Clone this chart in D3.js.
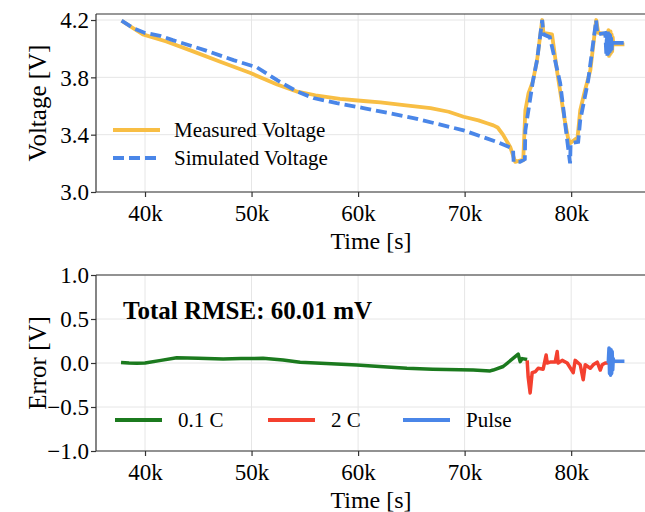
<!DOCTYPE html>
<html><head><meta charset="utf-8">
<script src="https://cdn.jsdelivr.net/npm/d3@7"></script>
<style>body{margin:0;background:#fff}svg{display:block}</style>
</head><body><svg id="c" width="645" height="512"></svg>
<script>
// ---- data ----
const measuredT = [37800,39800,42000,44200,47000,49900,52400,54300,56000,58300,60500,62100,64500,66800,68500,69900,71300,72100,72700,73100,73600,74300,74750,75200,75500,75700,76000,76400,76800,77280,77400,78200,78700,79400,79700,79900,80600,80850,81300,81800,82350,82550,83400,83450,83500,83550,83600,83650,83700,83750,83800,83850,83900,83950,85000];
const measuredV = [4.195,4.10,4.05,3.99,3.91,3.83,3.75,3.70,3.675,3.65,3.635,3.625,3.605,3.585,3.56,3.525,3.50,3.48,3.465,3.45,3.40,3.31,3.21,3.22,3.22,3.57,3.69,3.77,3.92,4.20,4.11,4.10,3.83,3.50,3.38,3.34,3.38,3.57,3.71,3.85,4.20,4.11,4.10,3.96,4.13,3.95,4.12,3.96,4.12,3.97,4.10,3.98,4.08,4.03,4.03];
const simulatedT = [37800,39000,40000,41400,42600,45200,48300,50500,52400,54300,55800,58000,60500,65200,69900,73000,74300,74550,74600,75200,75650,75700,76400,76800,77280,77400,78000,78970,79630,79900,79950,80660,80850,81600,82350,82450,83200,83300,83350,83400,83450,83500,83550,83600,83650,83700,83750,83800,83850,83900,85000];
const simulatedV = [4.195,4.14,4.11,4.09,4.06,4.00,3.92,3.87,3.78,3.70,3.656,3.62,3.586,3.516,3.43,3.35,3.31,3.29,3.21,3.21,3.23,3.43,3.77,3.92,4.20,4.10,4.08,3.76,3.36,3.20,3.34,3.35,3.50,3.78,4.20,4.10,4.11,3.96,4.12,3.95,4.12,3.96,4.11,3.97,4.10,3.98,4.08,3.99,4.06,4.04,4.04];

const err01T = [37750,38500,39220,40000,41500,42980,45000,47330,49000,51080,52960,54560,57000,59880,62000,64580,67000,70800,72400,72680,73620,75030,75220,75400,75870];
const err01V = [0.007,0.0,-0.003,0.0,0.03,0.06,0.055,0.045,0.05,0.053,0.034,0.008,-0.005,-0.023,-0.04,-0.06,-0.07,-0.08,-0.09,-0.08,-0.04,0.10,0.015,0.05,0.04];
const err2CT = [75870,75965,76150,76340,76620,76900,77370,77650,77750,78030,78500,78690,78780,79160,79630,80190,80380,80850,81130,81320,81790,82070,82450,82730,82910,83200,83480];
const err2CV = [0.03,-0.16,-0.34,-0.11,-0.10,-0.06,-0.07,0.09,0.0,0.01,0.01,0.13,0.0,0.03,0.0,-0.11,0.03,-0.02,-0.19,-0.02,-0.06,-0.02,0.01,-0.08,-0.02,0.0,0.0];
const errPulseT = [83480,83550,83600,83650,83700,83750,83800,83850,83900,83950,84000,85000];
const errPulseV = [0.0,0.17,-0.12,0.16,-0.14,0.15,-0.12,0.13,-0.08,0.05,0.02,0.02];

const xTicks = [40000,50000,60000,70000,80000];
const xTickLabels = ["40k","50k","60k","70k","80k"];
const vTicks = [3.0,3.4,3.8,4.2];
const eTicks = [-1.0,-0.5,0.0,0.5,1.0];
const topLegend = ["Measured Voltage","Simulated Voltage"];
const botLegend = ["0.1 C","2 C","Pulse"];
const rmseText = "Total RMSE: 60.01 mV";

// ---- drawing ----
const svg = d3.select("#c");
const FONT = "'Liberation Serif','Times New Roman',serif";
const C = {orange:"#F8BE44", blue:"#4A86E8", green:"#1B7A1E", red:"#F4402F", grid:"#e6e6e6", axis:"#333"};

const x = d3.scaleLinear().domain([35400,87400]).range([96,650]);
const yT = d3.scaleLinear().domain([3.0,4.242]).range([192,14]);
const yB = d3.scaleLinear().domain([-1,1]).range([451,275]);

function panel(y, yTicks, fmt, top, bottom, ylabel) {
  const g = svg.append("g");
  g.selectAll(".gx").data(xTicks).join("line")
    .attr("x1",d=>x(d)).attr("x2",d=>x(d)).attr("y1",top).attr("y2",bottom)
    .attr("stroke",C.grid).attr("stroke-width",1);
  g.selectAll(".gy").data(yTicks).join("line")
    .attr("x1",96).attr("x2",650).attr("y1",d=>y(d)).attr("y2",d=>y(d))
    .attr("stroke",C.grid).attr("stroke-width",1);
  const ax = g.append("g").attr("transform",`translate(0,${bottom})`)
    .call(d3.axisBottom(x).tickValues(xTicks).tickFormat((d,i)=>xTickLabels[i]).tickSize(5).tickPadding(3));
  const ay = g.append("g").attr("transform",`translate(96,0)`)
    .call(d3.axisLeft(y).tickValues(yTicks).tickFormat(fmt).tickSize(5).tickPadding(2));
  [ax,ay].forEach(a=>{
    a.select(".domain").remove();
    a.selectAll("line").attr("stroke",C.axis).attr("stroke-width",1.2);
    a.selectAll("text").attr("font-family",FONT).attr("font-size",23).attr("fill","#000");
  });
  ax.selectAll("text").attr("dy","0.9em");
  ay.selectAll("text").attr("dy","0.34em");
  g.append("line").attr("x1",96).attr("x2",650).attr("y1",top).attr("y2",top).attr("stroke",C.axis).attr("stroke-width",1.2);
  g.append("line").attr("x1",96).attr("x2",650).attr("y1",bottom).attr("y2",bottom).attr("stroke",C.axis).attr("stroke-width",1.2);
  g.append("line").attr("x1",96).attr("x2",96).attr("y1",top).attr("y2",bottom).attr("stroke",C.axis).attr("stroke-width",1.2);
  svg.append("text").attr("x",371).attr("y",bottom+57).attr("text-anchor","middle")
    .attr("font-family",FONT).attr("font-size",24).text("Time [s]");
  svg.append("text").attr("transform",`translate(46,${(top+bottom)/2}) rotate(-90)`).attr("text-anchor","middle")
    .attr("font-family",FONT).attr("font-size",25).text(ylabel);
  return g;
}

panel(yT, vTicks, d3.format(".1f"), 14, 192, "Voltage [V]");
panel(yB, eTicks, d=>d3.format(".1f")(d).replace("-","\u2212"), 275, 451, "Error [V]");

const lineT = d3.line().x(d=>x(d[0])).y(d=>yT(d[1]));
const lineB = d3.line().x(d=>x(d[0])).y(d=>yB(d[1]));

svg.append("path").datum(d3.zip(measuredT,measuredV)).attr("d",lineT)
  .attr("fill","none").attr("stroke",C.orange).attr("stroke-width",3.8).attr("stroke-linejoin","round");
svg.append("path").datum(d3.zip(simulatedT,simulatedV)).attr("d",lineT)
  .attr("fill","none").attr("stroke",C.blue).attr("stroke-width",3.8).attr("stroke-dasharray","11,5");

[[err01T,err01V,C.green],[err2CT,err2CV,C.red],[errPulseT,errPulseV,C.blue]].forEach(([t,v,c])=>{
  svg.append("path").datum(d3.zip(t,v)).attr("d",lineB)
    .attr("fill","none").attr("stroke",c).attr("stroke-width",3.5).attr("stroke-linejoin","round");
});

const lt = svg.append("g").attr("font-family",FONT).attr("font-size",21);
[[C.orange,null,130],[C.blue,"11,5",158]].forEach(([c,da,yy],i)=>{
  const l = lt.append("line").attr("x1",113).attr("x2",160).attr("y1",yy).attr("y2",yy)
    .attr("stroke",c).attr("stroke-width",3.8);
  if (da) l.attr("stroke-dasharray",da);
  lt.append("text").attr("x",174).attr("y",yy+7).text(topLegend[i]);
});
const lb = svg.append("g").attr("font-family",FONT).attr("font-size",21);
[[C.green,115],[C.red,268],[C.blue,403]].forEach(([c,xx],i)=>{
  lb.append("line").attr("x1",xx).attr("x2",xx+47).attr("y1",420).attr("y2",420)
    .attr("stroke",c).attr("stroke-width",3.8);
  lb.append("text").attr("x",xx+63).attr("y",427).text(botLegend[i]);
});

svg.append("text").attr("x",123).attr("y",319).attr("font-family",FONT)
  .attr("font-size",25).attr("font-weight","bold").text(rmseText);
</script>
</body></html>
